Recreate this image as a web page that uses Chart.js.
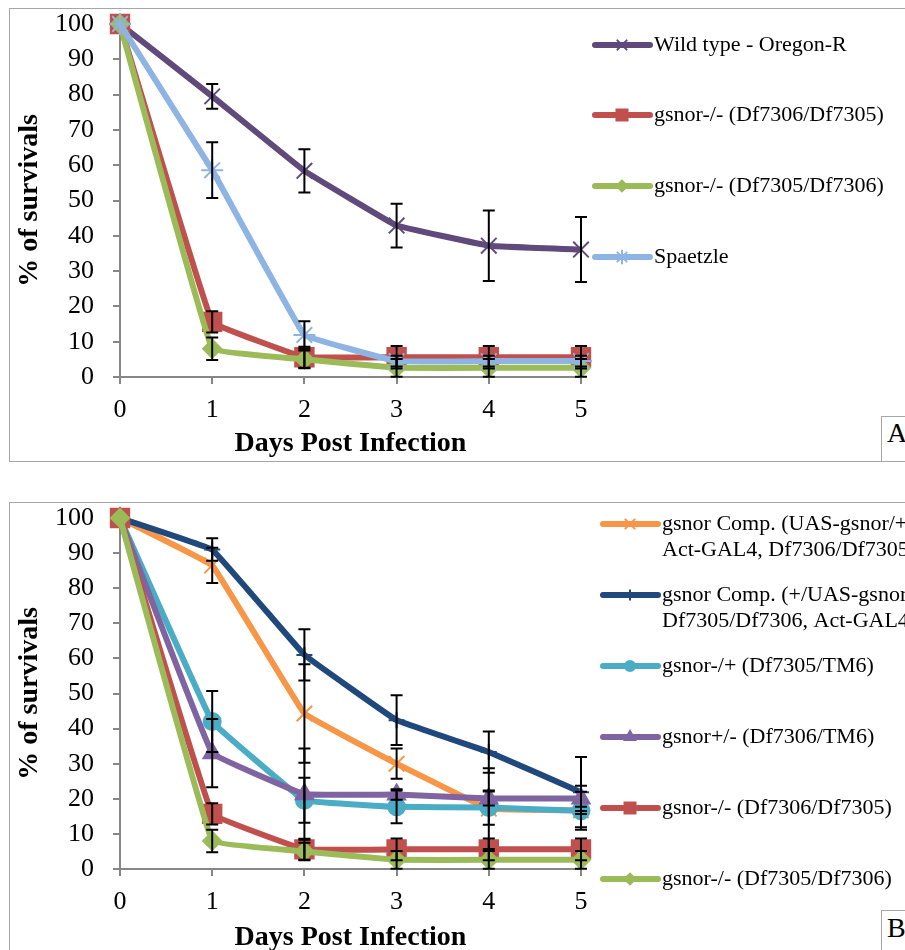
<!DOCTYPE html>
<html>
<head>
<meta charset="utf-8">
<script src="https://cdn.jsdelivr.net/npm/chart.js@4.4.1/dist/chart.umd.min.js"></script>
<style>
  html, body { margin: 0; padding: 0; background: #fff; overflow: hidden; }
  body { width: 905px; height: 950px; position: relative; }
  .panel { position: absolute; left: 9px; width: 905px; border: 1px solid #A6A6A6; overflow: hidden; }
  #panelA { top: 8px; height: 452px; }
  #panelB { top: 502px; height: 460px; }
  .tag { position: absolute; left: 881px; width: 60px; border: 1px solid #A6A6A6; border-bottom: none; background: #fff; }
  .tag span { position: absolute; left: 5px; font: 28px "Liberation Serif", serif; line-height: 1; }
  canvas { display: block; }
</style>
</head>
<body>
<div class="panel" id="panelA"><canvas id="chartA" width="895" height="452"></canvas></div>
<div class="panel" id="panelB"><canvas id="chartB" width="895" height="452"></canvas></div>
<div class="tag" style="top:416px;height:44px"><span style="top:2px">A</span></div>
<div class="tag" style="top:910px;height:60px"><span style="top:3px">B</span></div>

<script>
const days = ['0', '1', '2', '3', '4', '5']
const yTicks = [0, 10, 20, 30, 40, 50, 60, 70, 80, 90, 100]

// Panel A
const wildType = [100, 79.5, 58.4, 42.9, 37.2, 36.1]
const wildTypeErr = [0, 3.5, 6.1, 6.2, 10.0, 9.2]
const df7306A = [100, 15.6, 5.6, 5.6, 5.6, 5.6]
const df7306AErr = [0, 3.0, 3.0, 3.2, 3.2, 3.2]
const df7305A = [100, 8.0, 5.0, 2.6, 2.6, 2.6]
const df7305AErr = [0, 3.2, 2.5, 2.5, 2.5, 2.5]
const spaetzle = [100, 58.6, 11.9, 4.5, 4.5, 4.5]
const spaetzleErr = [0, 7.9, 3.9, 1.5, 1.5, 1.5]

// Panel B
const compA = [100, 86.5, 44.3, 30.0, 17.2, 16.7]
const compAErr = [0, 5.0, 14.0, 4.3, 11.5, 1.0]
const compB = [100, 91.0, 61.0, 42.4, 33.3, 21.9]
const compBErr = [0, 3.2, 7.3, 7.1, 5.9, 10.0]
const hetMinus = [100, 42.0, 19.6, 17.7, 17.5, 16.6]
const hetMinusErr = [0, 8.7, 6.4, 4.7, 4.9, 5.4]
const hetPlus = [100, 33.0, 21.3, 21.2, 20.1, 20.1]
const hetPlusErr = [0, 9.7, 13.0, 1.5, 2.0, 3.6]
const df7306B = [100, 15.7, 5.6, 5.6, 5.6, 5.6]
const df7306BErr = [0, 3.0, 3.0, 3.1, 3.1, 3.1]
const df7305B = [100, 8.0, 5.0, 2.6, 2.6, 2.6]
const df7305BErr = [0, 3.2, 2.5, 2.5, 2.5, 2.5]

const legendA = [
  ['Wild type - Oregon-R'],
  ['gsnor-/- (Df7306/Df7305)'],
  ['gsnor-/- (Df7305/Df7306)'],
  ['Spaetzle']
]
const legendB = [
  ['gsnor Comp. (UAS-gsnor/+;', 'Act-GAL4, Df7306/Df7305)'],
  ['gsnor Comp. (+/UAS-gsnor;', 'Df7305/Df7306, Act-GAL4)'],
  ['gsnor-/+ (Df7305/TM6)'],
  ['gsnor+/- (Df7306/TM6)'],
  ['gsnor-/- (Df7306/Df7305)'],
  ['gsnor-/- (Df7305/Df7306)']
]

const axisGrey = '#868686'
Chart.defaults.font.family = '"Liberation Serif", serif'

function series(lines, data, errors, color, style, radius) {
  return {
    label: lines.join(' '),
    data,
    errors,
    borderColor: color,
    backgroundColor: color,
    pointBackgroundColor: color,
    pointBorderColor: color,
    pointStyle: style,
    pointRadius: radius,
    pointBorderWidth: 2,
    borderWidth: 6,
    borderJoinStyle: 'round',
    tension: 0.05,
    clip: false
  }
}

// black error bars drawn through the y scale
const errorBars = {
  id: 'errorBars',
  afterDatasetsDraw(chart) {
    const { ctx, scales: { x, y } } = chart
    ctx.save()
    ctx.strokeStyle = '#000'
    ctx.lineWidth = 2
    chart.data.datasets.forEach(ds => {
      ds.errors.forEach((e, j) => {
        if (!e) return
        const px = x.getPixelForValue(j)
        const top = y.getPixelForValue(ds.data[j] + e)
        const bot = y.getPixelForValue(ds.data[j] - e)
        ctx.beginPath()
        ctx.moveTo(px, top); ctx.lineTo(px, bot)
        ctx.moveTo(px - 6, top); ctx.lineTo(px + 6, top)
        ctx.moveTo(px - 6, bot); ctx.lineTo(px + 6, bot)
        ctx.stroke()
      })
    })
    ctx.restore()
  }
}

// Excel-like legend column on the right
const sideLegend = {
  id: 'sideLegend',
  afterDraw(chart, args, opts) {
    const ctx = chart.ctx
    chart.data.datasets.forEach((ds, i) => {
      const y = opts.rows[i]
      ctx.save()
      ctx.strokeStyle = ds.borderColor
      ctx.fillStyle = ds.borderColor
      ctx.lineWidth = 6
      ctx.lineCap = 'round'
      ctx.beginPath()
      ctx.moveTo(opts.x, y)
      ctx.lineTo(opts.x + 55, y)
      ctx.stroke()
      ctx.lineWidth = 2
      Chart.helpers.drawPoint(ctx, {
        pointStyle: ds.pointStyle, rotation: 0, radius: ds.pointRadius * 0.6, borderWidth: 2
      }, opts.x + 27, y)
      ctx.fillStyle = '#000'
      ctx.font = '22px "Liberation Serif"'
      ctx.textBaseline = 'middle'
      opts.lines[i].forEach((t, k) => ctx.fillText(t, opts.x + 59, y + k * 26))
      ctx.restore()
    })
  }
}

function makeChart(id, datasets, lines, rows, legendX, top, axisHeight, titlePad) {
  datasets.forEach((ds, i) => { ds.order = datasets.length - 1 - i })
  return new Chart(document.getElementById(id), {
    type: 'line',
    data: { labels: days, datasets },
    plugins: [errorBars, sideLegend],
    options: {
      responsive: false,
      animation: false,
      events: [],
      layout: { padding: { top, right: 324, left: 0, bottom: 0 } },
      plugins: {
        legend: { display: false },
        tooltip: { enabled: false },
        sideLegend: { x: legendX, rows, lines }
      },
      scales: {
        x: {
          grid: { drawOnChartArea: false, color: axisGrey, lineWidth: 2, tickLength: 7 },
          border: { color: axisGrey, width: 2 },
          ticks: { color: '#000', font: { size: 26 }, padding: 11, maxRotation: 0 },
          title: {
            display: true, text: 'Days Post Infection', color: '#000',
            font: { size: 28, weight: 'bold' }, padding: { top: 0, bottom: titlePad }
          },
          afterFit: s => { s.height = axisHeight }
        },
        y: {
          min: 0,
          max: 100,
          afterBuildTicks: s => { s.ticks = yTicks.map(v => ({ value: v })) },
          grid: { drawOnChartArea: false, color: axisGrey, lineWidth: 2, tickLength: 7 },
          border: { color: axisGrey, width: 2 },
          ticks: { color: '#000', font: { size: 26 }, padding: 19, autoSkip: false },
          title: {
            display: true, text: '% of survivals', color: '#000',
            font: { size: 28, weight: 'bold' }, padding: { top: 3, bottom: 0 }
          },
          afterFit: s => {
            s.width = 110
            s.paddingTop = 0
            s.paddingBottom = 0
          }
        }
      }
    }
  })
}

makeChart('chartA', [
  series(legendA[0], wildType, wildTypeErr, '#604A7B', 'crossRot', 11),
  series(legendA[1], df7306A, df7306AErr, '#C0504D', 'rect', 13),
  series(legendA[2], df7305A, df7305AErr, '#9BBB59', 'rectRot', 9),
  series(legendA[3], spaetzle, spaetzleErr, '#8EB4E3', 'star', 11)
], legendA, [36, 106, 177, 248], 585, 14, 84, 0)

makeChart('chartB', [
  series(legendB[0], compA, compAErr, '#F79646', 'crossRot', 11),
  series(legendB[1], compB, compBErr, '#1F497D', 'cross', 8),
  series(legendB[2], hetMinus, hetMinusErr, '#4BACC6', 'circle', 8.5),
  series(legendB[3], hetPlus, hetPlusErr, '#8064A2', 'triangle', 10),
  series(legendB[4], df7306B, df7306BErr, '#C0504D', 'rect', 13),
  series(legendB[5], df7305B, df7305BErr, '#9BBB59', 'rectRot', 9)
], legendB, [21, 92, 163, 234, 305, 376], 593, 15, 86, 0)
</script>
</body>
</html>
